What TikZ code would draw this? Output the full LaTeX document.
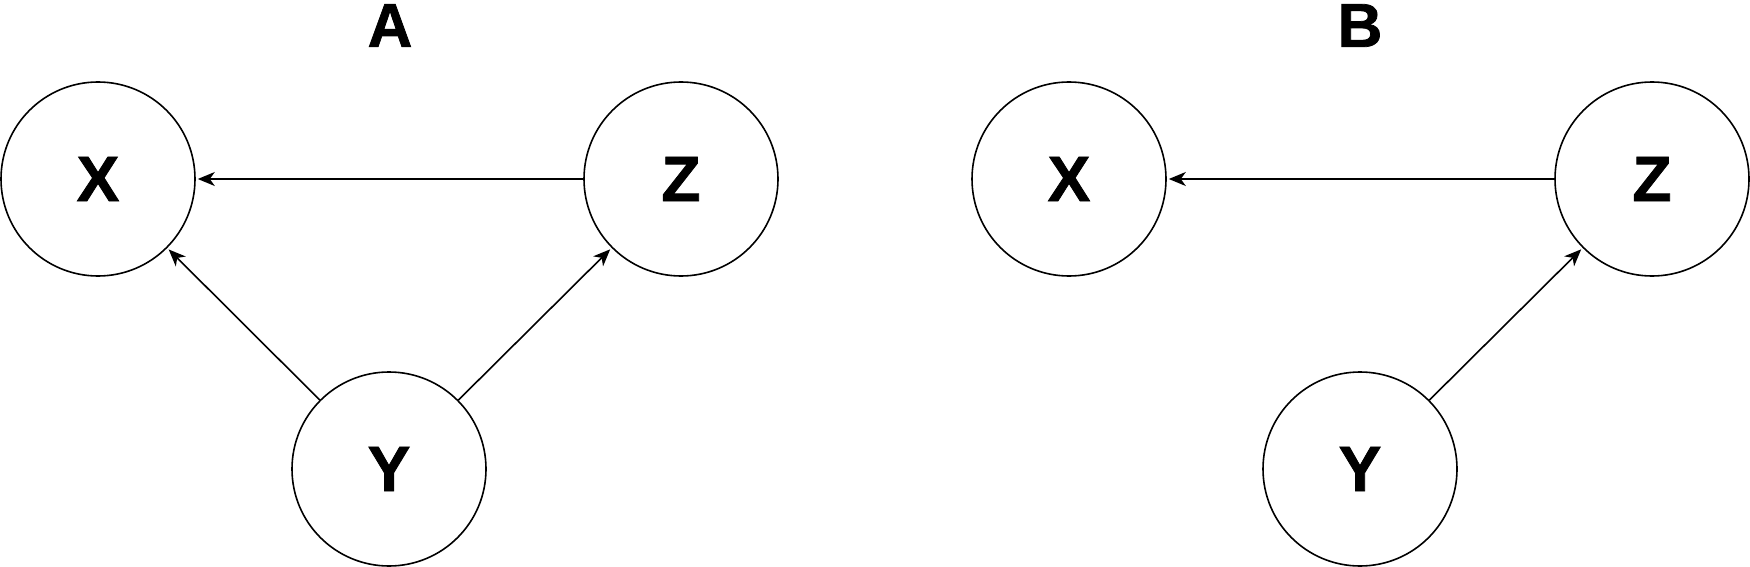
\documentclass[tikz,border=0pt]{standalone}
\usepackage{fontspec}
\setmainfont{Liberation Sans}[BoldFeatures={FakeBold=1.2}]
\usetikzlibrary{arrows.meta}
\tikzset{
	var/.style={draw, circle, line width=1.6pt, minimum size=194pt, inner sep=0pt, font=\fontsize{64}{64}\selectfont\bfseries},
	title/.style={anchor=north, inner sep=0pt, font=\fontsize{62}{62}\selectfont\bfseries},
	edge/.style={-{Stealth[length=17pt, width=14pt, inset=5pt]}, line width=1.6pt, shorten >=2pt}
}
\begin{document}
\begin{tikzpicture}[x=1pt, y=-1pt]
		\useasboundingbox (0, 0) rectangle (1750, 567);
		% A
		\draw node[title] at (390, 4) (titlea) {A};
		\draw node[var] at (98, 179) (xa) {X};
		\draw node[var] at (681, 179) (za) {Z};
		\draw node[var] at (389, 469) (ya) {Y};
		
		\draw [edge]   (za) -- (xa);
		\draw [edge]   (ya) -- (xa);
		\draw [edge]   (ya) -- (za);
		
		% B
		\draw node[title] at (1360, 4) (titleb) {B};
		\draw node[var] at (1069, 179) (xb) {X};
		\draw node[var] at (1652, 179) (zb) {Z};
		\draw node[var] at (1360, 469) (yb) {Y};
		
		\draw [edge]   (zb) -- (xb);
		\draw [edge]   (yb) -- (zb);
	\end{tikzpicture}
\end{document}
